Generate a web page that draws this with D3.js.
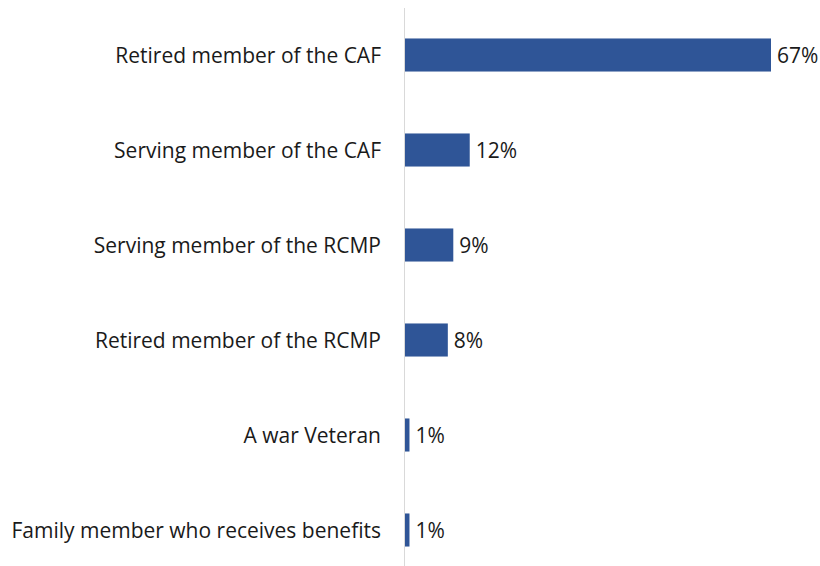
<!DOCTYPE html>
<html><head><meta charset="utf-8">
<script src="https://cdn.jsdelivr.net/npm/d3@7"></script>
<style>body{margin:0;background:#fff}svg{display:block}</style>
</head><body>
<script>
const categories = ["Retired member of the CAF","Serving member of the CAF","Serving member of the RCMP","Retired member of the RCMP","A war Veteran","Family member who receives benefits"];
const values = [67,12,9,8,1,1];
const valueLabels = ["67%","12%","9%","8%","1%","1%"];

const W=820,H=566;
const svg=d3.select("body").append("svg").attr("width",W).attr("height",H);
const x0=404;
const x=d3.scaleLinear().domain([0,67]).range([x0,771]);
const y=d3.scaleBand().domain(categories).range([7.5,577.5]).paddingInner(0.652).paddingOuter(0.326);
const font="'Open Sans', sans-serif";

svg.selectAll("rect.bar").data(categories).join("rect")
 .attr("x",x0).attr("y",d=>y(d)).attr("height",y.bandwidth())
 .attr("width",(d,i)=>x(values[i])-x0).attr("fill","#2F5597");

svg.append("line").attr("x1",x0+0.5).attr("x2",x0+0.5).attr("y1",8).attr("y2",H)
 .attr("stroke","#d9d9d9").attr("stroke-width",1);

svg.selectAll("text.cat").data(categories).join("text")
 .attr("x",381).attr("y",d=>y(d)+y.bandwidth()/2).attr("dy","0.36em")
 .attr("text-anchor","end").attr("font-family",font).attr("font-size",21).attr("fill","#1a1a1a").text(d=>d);

svg.selectAll("text.val").data(categories).join("text")
 .attr("x",(d,i)=>x(values[i])+6).attr("y",d=>y(d)+y.bandwidth()/2).attr("dy","0.36em")
 .attr("font-family",font).attr("font-size",21).attr("fill","#1a1a1a").text((d,i)=>valueLabels[i]);
</script>
</body></html>
